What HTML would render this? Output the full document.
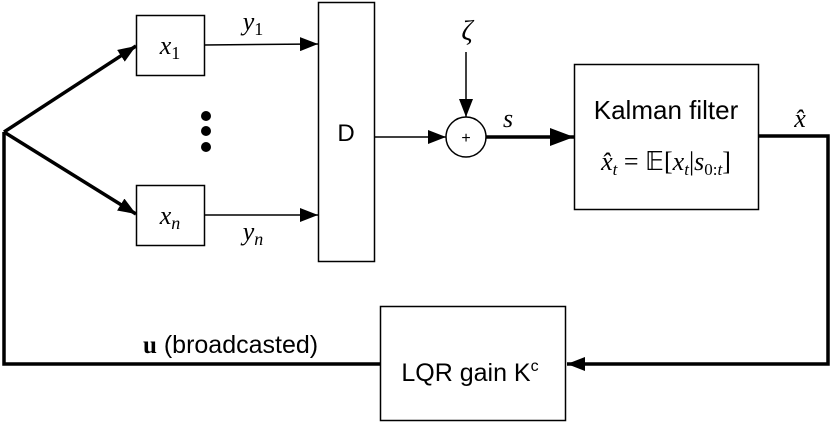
<!DOCTYPE html>
<html><head><style>
html,body{margin:0;padding:0;background:#fff;}
svg{display:block;}
.m{font-family:"Liberation Serif",serif;font-style:italic;}
.s{font-family:"Liberation Sans",sans-serif;}
</style></head><body>
<svg width="830" height="424" viewBox="0 0 830 424" xmlns="http://www.w3.org/2000/svg">
<defs>
<marker id="b" markerWidth="24" markerHeight="18" refX="24" refY="9" orient="auto" markerUnits="userSpaceOnUse" viewBox="0 0 24 18"><path d="M0,0 L24,9 L0,18 z" fill="#000"/></marker>
<marker id="c" markerWidth="18" markerHeight="14" refX="18" refY="7" orient="auto" markerUnits="userSpaceOnUse" viewBox="0 0 18 14"><path d="M0,0 L18,7 L0,14 z" fill="#000"/></marker>
</defs>
<g fill="none" stroke="#000">
<rect x="136.5" y="15.5" width="68" height="60" stroke-width="1.5"/>
<rect x="136.5" y="185.5" width="68" height="60" stroke-width="1.5"/>
<rect x="318.5" y="2.5" width="56" height="259" stroke-width="1.5"/>
<rect x="574.5" y="64.5" width="184" height="145" stroke-width="1.5"/>
<rect x="380.5" y="306.5" width="185" height="114" stroke-width="1.5"/>
<circle cx="466" cy="137" r="20" stroke-width="1.5"/>
<line x1="4" y1="132" x2="136" y2="46" stroke-width="3.5" marker-end="url(#c)"/>
<line x1="4" y1="132" x2="136" y2="214" stroke-width="3.5" marker-end="url(#c)"/>
<polyline points="4,132 4,364 380,364" stroke-width="3.5"/>
<line x1="204" y1="45" x2="318" y2="44" stroke-width="1.5" marker-end="url(#c)"/>
<line x1="204" y1="215" x2="318" y2="215" stroke-width="1.5" marker-end="url(#c)"/>
<line x1="374" y1="137" x2="446" y2="137" stroke-width="1.5" marker-end="url(#c)"/>
<line x1="466" y1="52" x2="466" y2="117" stroke-width="1.5" marker-end="url(#c)"/>
<line x1="486" y1="137" x2="574" y2="137" stroke-width="3.5" marker-end="url(#b)"/>
<polyline points="758,136 828,136 828,364 567,364" stroke-width="3.5" marker-end="url(#c)"/>
</g>
<circle cx="206" cy="116" r="5"/><circle cx="206" cy="131" r="5"/><circle cx="206" cy="147" r="5"/>
<text x="170" y="54" class="m" font-size="26" text-anchor="middle">x<tspan font-size="18" font-style="normal" dy="5">1</tspan></text>
<text x="170" y="224" class="m" font-size="26" text-anchor="middle">x<tspan font-size="18" dy="5">n</tspan></text>
<text x="253" y="30" class="m" font-size="26" text-anchor="middle">y<tspan font-size="18" font-style="normal" dy="5">1</tspan></text>
<text x="253" y="240" class="m" font-size="26" text-anchor="middle">y<tspan font-size="18" dy="5">n</tspan></text>
<text x="346" y="141" class="s" font-size="24" text-anchor="middle">D</text>
<text x="466" y="143" class="s" font-size="16" text-anchor="middle">+</text>
<text x="467" y="40" class="m" font-size="28" text-anchor="middle">ζ</text>
<text x="508" y="127" class="m" font-size="26" text-anchor="middle">s</text>
<text x="800" y="127" class="m" font-size="26" text-anchor="middle">x̂</text>
<text x="666" y="119" class="s" font-size="26" text-anchor="middle">Kalman filter</text>
<text x="666" y="170" font-family="Liberation Serif,serif" font-size="26" text-anchor="middle"><tspan font-style="italic">x̂<tspan font-size="17" dy="5">t</tspan></tspan><tspan dy="-5"> = 𝔼[</tspan><tspan font-style="italic">x<tspan font-size="17" dy="5">t</tspan></tspan><tspan dy="-5">|</tspan><tspan font-style="italic">s</tspan><tspan font-size="17" dy="5">0:<tspan font-style="italic">t</tspan></tspan><tspan dy="-5">]</tspan></text>
<text x="143" y="353" font-size="25"><tspan font-family="Liberation Serif,serif" font-weight="bold">u</tspan><tspan class="s"> (broadcasted)</tspan></text>
<text x="470" y="381" class="s" font-size="25" text-anchor="middle">LQR gain K<tspan font-size="16" dy="-10">c</tspan></text>
</svg>
</body></html>
